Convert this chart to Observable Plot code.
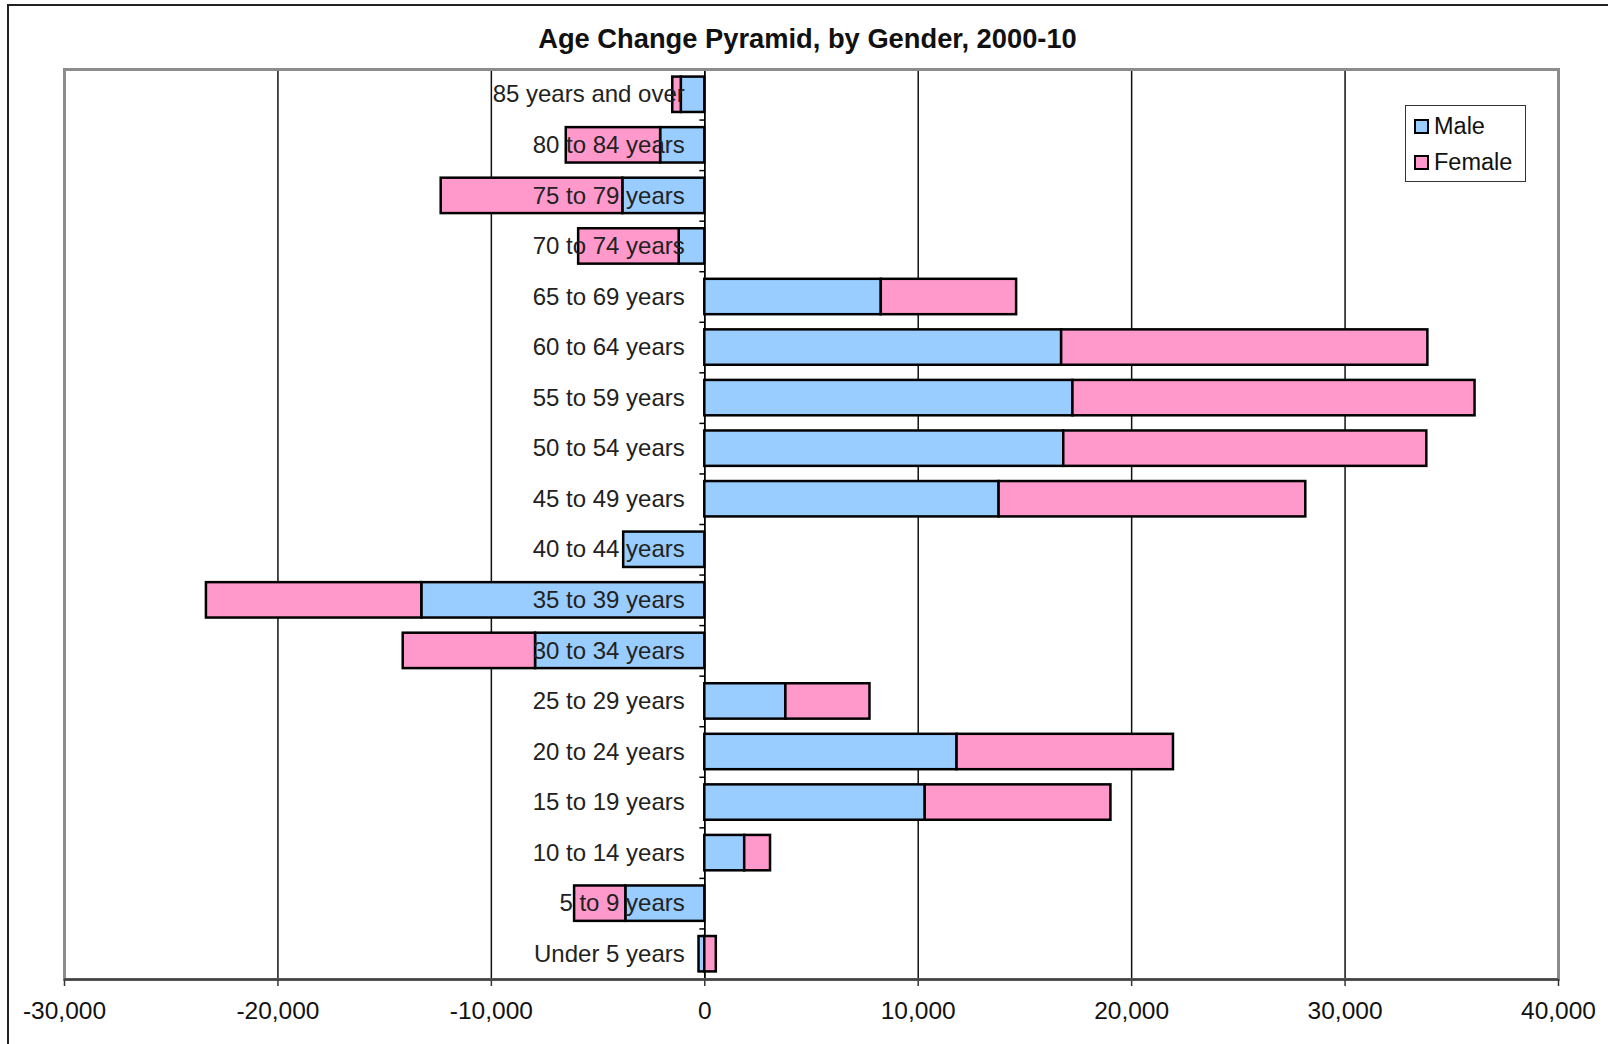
<!DOCTYPE html>
<html>
<head>
<meta charset="utf-8">
<script src="https://cdn.jsdelivr.net/npm/d3@7"></script>
<script src="https://cdn.jsdelivr.net/npm/@observablehq/plot@0.6"></script>
<style>
  html, body { margin: 0; padding: 0; background: #fff; }
  #wrap { position: relative; width: 1608px; height: 1044px; overflow: hidden; font-family: "Liberation Sans", Arial, sans-serif; }
  #chart svg { display: block; }
  #border { position: absolute; left: 7px; top: 4px; width: 1700px; height: 1200px; border-top: 2px solid #222; border-left: 2px solid #222; }
  #legend { position: absolute; left: 1405px; top: 105px; width: 121px; height: 77px; border: 1.5px solid #333; background: #fff; box-sizing: border-box; }
  .item { position: absolute; left: 8px; display: flex; align-items: center; font-size: 23.5px; color: #111; }
  .sw { width: 11px; height: 11px; border: 2.5px solid #000; margin-right: 5px; }
</style>
</head>
<body>
<div id="wrap">
  <div id="border"></div>
  <div id="chart"></div>
  <div id="legend"></div>
</div>
<script>
const title = "Age Change Pyramid, by Gender, 2000-10";
const ages = ["85 years and over","80 to 84 years","75 to 79 years","70 to 74 years","65 to 69 years",
  "60 to 64 years","55 to 59 years","50 to 54 years","45 to 49 years","40 to 44 years","35 to 39 years",
  "30 to 34 years","25 to 29 years","20 to 24 years","15 to 19 years","10 to 14 years","5 to 9 years","Under 5 years"];
const male   = [-1100, -2070, -3840, -1200, 8270, 16720, 17250, 16820, 13790, -3800, -13260, -7930, 3800, 11820, 10330, 1870, -3700, -270];
const female = [-400, -4420, -8510, -4710, 6340, 17160, 18840, 17010, 14370, 0, -10090, -6200, 3940, 10140, 8700, 1210, -2400, 540];
const series = ["Male", "Female"];
const colors = ["#99ccff", "#ff99cc"];
const xTicks = [-30000, -20000, -10000, 0, 10000, 20000, 30000, 40000];

const data = ages.flatMap((a, i) => [
  {age: a, sex: "Male", value: male[i]},
  {age: a, sex: "Female", value: female[i]}
]).filter(d => d.value !== 0);

const W = 1608, H = 1044, mL = 64, mR = 50, mT = 69, mB = 65;
const step = (H - mT - mB) / ages.length;
const fmt = d => d.toLocaleString("en-US");

const chart = Plot.plot({
  width: W, height: H,
  marginLeft: mL, marginRight: mR, marginTop: mT, marginBottom: mB,
  style: {fontFamily: "'Liberation Sans', Arial, sans-serif", background: "transparent", color: "#111"},
  x: {domain: [xTicks[0], xTicks[xTicks.length - 1]]},
  y: {domain: ages, paddingInner: 0.3, paddingOuter: 0.15, round: false, axis: null},
  color: {domain: series, range: colors},
  marks: [
    Plot.gridX({ticks: xTicks.slice(1, -1), stroke: "#111", strokeOpacity: 1, strokeWidth: 1.5}),
    Plot.ruleX([0], {stroke: "#000", strokeWidth: 1.5}),
    Plot.ruleY(ages, {y: d => d, x1: -230, x2: 0, dy: -step / 2, stroke: "#000", strokeWidth: 1.5}),
    Plot.barX(data, Plot.stackX({x: "value", y: "age", fill: "sex", stroke: "#000", strokeWidth: 2.5})),
    Plot.text(ages, {x: () => 0, y: d => d, text: d => d, textAnchor: "end", dx: -20, fontSize: 24, fill: "#222"}),
    Plot.frame({stroke: "#8c8c8c", strokeWidth: 3}),
    Plot.axisX({ticks: xTicks, tickFormat: fmt, tickSize: 7, tickPadding: 15, fontSize: 24.5, label: null, stroke: "#333", strokeWidth: 1.5}),
    Plot.ruleY([0], {y: () => ages[ages.length - 1], dy: step / 2, stroke: "#444", strokeWidth: 2.5}),
    Plot.text([title], {frameAnchor: "top", lineAnchor: "middle", dy: -30, dx: -4, fontSize: 27.3, fontWeight: "bold", fill: "#111"})
  ]
});
document.getElementById("chart").appendChild(chart);

const legend = document.getElementById("legend");
series.forEach((s, i) => {
  const it = document.createElement("div");
  it.className = "item";
  it.style.top = (i === 0 ? 7 : 43) + "px";
  const sw = document.createElement("div");
  sw.className = "sw";
  sw.style.background = colors[i];
  const t = document.createElement("span");
  t.textContent = s;
  it.appendChild(sw); it.appendChild(t);
  legend.appendChild(it);
});
</script>
</body>
</html>
